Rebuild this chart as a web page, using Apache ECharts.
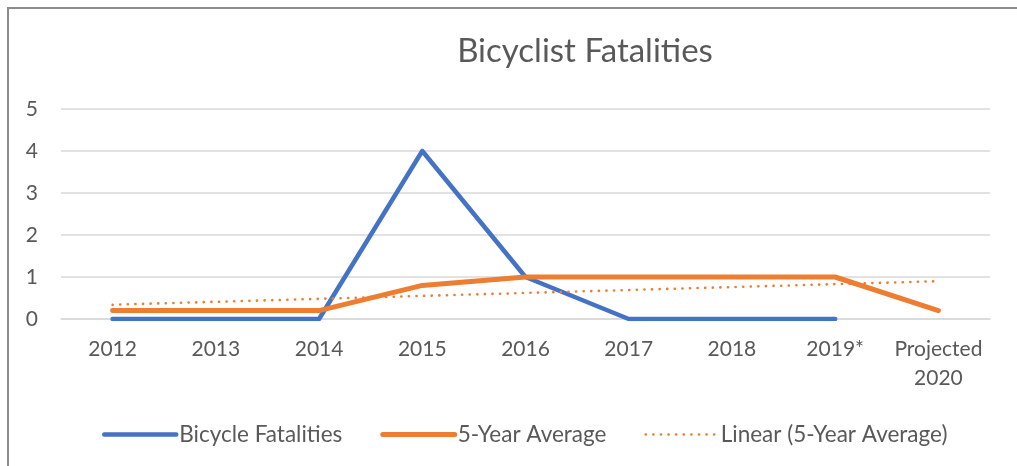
<!DOCTYPE html>
<html><head><meta charset="utf-8">
<script src="https://cdn.jsdelivr.net/npm/echarts@6/dist/echarts.min.js"></script>
<style>html,body{margin:0;padding:0;background:#fff}#c{width:1017px;height:466px}</style>
</head><body><div id="c"></div>
<script>
var categories = ['2012','2013','2014','2015','2016','2017','2018','2019*','Projected\n2020'];
var fatalities = [0,0,0,4,1,0,0,0,null];
var fiveYearAvg = [0.2,0.2,0.2,0.8,1,1,1,1,0.2];
var linearTrend = [0.34,0.41,0.48,0.55,0.62,0.69,0.76,0.83,0.9];
var yTicks = [0,1,2,3,4,5];
var FONT = 'Lato';
var chart = echarts.init(document.getElementById('c'));
chart.setOption({
  animation:false,
  textStyle:{fontFamily:FONT},
  graphic:[{type:'rect',shape:{x:8,y:8,width:1020,height:470},style:{fill:'none',stroke:'#8c8c8c',lineWidth:2},silent:true}],
  title:{text:'Bicyclist Fatalities',left:580,top:30,textAlign:'center',
    textStyle:{fontFamily:FONT,fontSize:33,fontWeight:'normal',color:'#595959'}},
  legend:{top:418,left:97,itemWidth:72,itemHeight:14,itemGap:38,
    lineStyle:{width:'inherit',type:'inherit',cap:'round'},
    itemStyle:{color:'rgba(0,0,0,0)',borderWidth:0,opacity:0},
    textStyle:{fontFamily:FONT,fontSize:22.5,color:'#595959',padding:[0,0,0,-2]},
    data:['Bicycle Fatalities','5-Year Average','Linear (5-Year Average)']},
  grid:{left:61,right:27,top:109,bottom:147,containLabel:false},
  xAxis:{type:'category',data:categories,boundaryGap:true,
    axisLine:{show:true,lineStyle:{color:'#d9d9d9',width:1.5}},axisTick:{show:false},
    axisLabel:{fontFamily:FONT,fontSize:21,color:'#595959',margin:16,lineHeight:29,interval:0}},
  yAxis:{type:'value',min:yTicks[0],max:yTicks[yTicks.length-1],interval:1,
    axisLine:{show:false},axisTick:{show:false},
    splitLine:{lineStyle:{color:'#d9d9d9',width:1.5}},
    axisLabel:{fontFamily:FONT,fontSize:21,color:'#595959',margin:23}},
  series:[
    {name:'Bicycle Fatalities',type:'line',data:fatalities,symbol:'none',
      lineStyle:{color:'#4472C4',width:4.5,cap:'round',join:'round'},itemStyle:{color:'#4472C4'},z:3},
    {name:'5-Year Average',type:'line',data:fiveYearAvg,symbol:'none',
      lineStyle:{color:'#ED7D31',width:5,cap:'round',join:'round'},itemStyle:{color:'#ED7D31'},z:4},
    {name:'Linear (5-Year Average)',type:'line',data:linearTrend,symbol:'none',
      lineStyle:{color:'#ED7D31',width:2.6,type:[0.1,7.5],cap:'round'},itemStyle:{color:'#ED7D31'},z:5}
  ]
});
</script></body></html>
